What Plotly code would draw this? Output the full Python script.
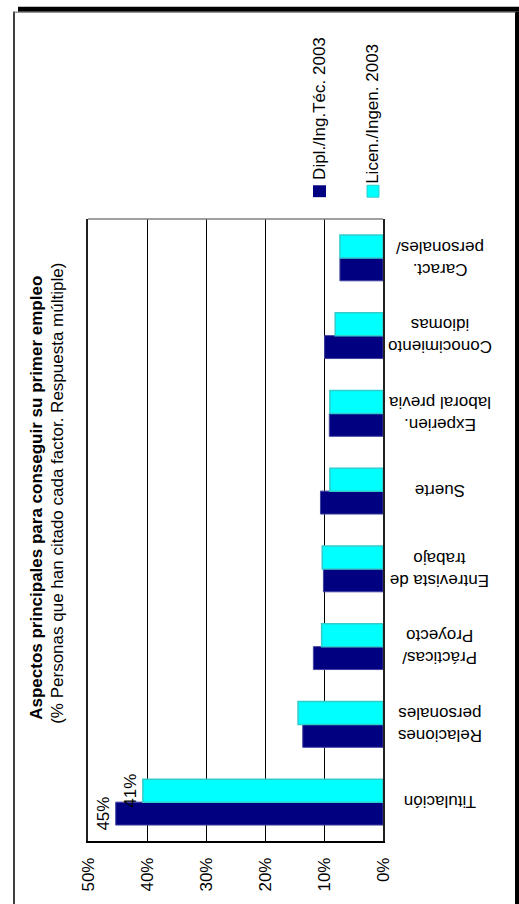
import plotly.graph_objects as go

categories = ["Titulación", "Relaciones<br>personales", "Prácticas/<br>Proyecto",
              "Entrevista de<br>trabajo", "Suerte", "Experien.<br>laboral previa",
              "Conocimiento<br>idiomas", "Caract.<br>personales/"]
dipl = [45.3, 13.6, 11.8, 10.1, 10.6, 9.1, 9.9, 7.3]
licen = [40.7, 14.4, 10.4, 10.3, 9.0, 9.0, 8.1, 7.3]
dipl_labels = ["45%", "", "", "", "", "", "", ""]
licen_labels = ["41%", "", "", "", "", "", "", ""]
series_names = ["Dipl./Ing.Téc. 2003", "Licen./Ingen. 2003"]
tick_vals = [0, 10, 20, 30, 40, 50]
tick_text = ["0%", "10%", "20%", "30%", "40%", "50%"]
title = "Aspectos principales para conseguir su primer empleo"
subtitle = "(% Personas que han citado cada factor. Respuesta múltiple)"

W, H = 519, 904
L, R, T, B = 88, 383, 219, 846
FONT = "Arial, Liberation Sans, sans-serif"
FS = 17


def px(x):
    return (x - L) / (R - L)


def py(y):
    return (B - y) / (B - T)


fig = go.Figure()
fig.add_trace(go.Bar(
    y=categories, x=dipl, orientation="h", name=series_names[0],
    marker=dict(color="#000080", line=dict(color="#4040a0", width=1)),
    text=dipl_labels, textposition="outside", textangle=-90,
    constraintext="none", cliponaxis=False,
    textfont=dict(family=FONT, size=FS, color="#000"),
))
fig.add_trace(go.Bar(
    y=categories, x=licen, orientation="h", name=series_names[1],
    marker=dict(color="#00FFFF", line=dict(color="#33CCCC", width=1.5)),
    text=licen_labels, textposition="outside", textangle=-90,
    constraintext="none", cliponaxis=False,
    textfont=dict(family=FONT, size=FS, color="#000"),
))

shapes = []
# outer frame
shapes.append(dict(type="rect", xref="paper", yref="paper", x0=px(18), x1=px(519), y0=py(10), y1=py(5),
                   fillcolor="#000", line=dict(width=0), layer="above"))
shapes.append(dict(type="rect", xref="paper", yref="paper", x0=px(515), x1=px(519), y0=py(910), y1=py(10),
                   fillcolor="#000", line=dict(width=0), layer="above"))
shapes.append(dict(type="line", xref="paper", yref="paper", x0=px(14), x1=px(14), y0=py(910), y1=py(10),
                   line=dict(color="#404040", width=2)))
shapes.append(dict(type="line", xref="paper", yref="paper", x0=px(13), x1=px(516), y0=py(10.5), y1=py(10.5),
                   line=dict(color="#606060", width=1)))
# plot border top
shapes.append(dict(type="line", xref="paper", yref="paper", x0=0, x1=1, y0=1, y1=1,
                   line=dict(color="#808080", width=1.5)))
# legend keys
shapes.append(dict(type="rect", xref="paper", yref="paper", x0=px(313), x1=px(326), y0=py(197), y1=py(185),
                   fillcolor="#000080", line=dict(width=0)))
shapes.append(dict(type="rect", xref="paper", yref="paper", x0=px(367), x1=px(379), y0=py(197), y1=py(185),
                   fillcolor="#00FFFF", line=dict(color="#33CCCC", width=1)))

annotations = [
    dict(text="<b>" + title + "</b>", x=px(37), y=py(500), xref="paper", yref="paper",
         textangle=-90, showarrow=False, font=dict(family=FONT, size=FS, color="#000"),
         xanchor="center", yanchor="middle"),
    dict(text=subtitle, x=px(58), y=py(496), xref="paper", yref="paper",
         textangle=-90, showarrow=False, font=dict(family=FONT, size=FS, color="#000"),
         xanchor="center", yanchor="middle"),
    dict(text=series_names[0], x=px(320), y=py(108), xref="paper", yref="paper",
         textangle=-90, showarrow=False, font=dict(family=FONT, size=FS, color="#000"),
         xanchor="center", yanchor="middle"),
    dict(text=series_names[1], x=px(373), y=py(113), xref="paper", yref="paper",
         textangle=-90, showarrow=False, font=dict(family=FONT, size=FS, color="#000"),
         xanchor="center", yanchor="middle"),
]
# category labels (upside-down, centred to the right of the plot)
for cat in categories:
    annotations.append(dict(text=cat, x=px(440), y=cat, xref="paper", yref="y",
                            textangle=180, showarrow=False, align="center",
                            font=dict(family=FONT, size=FS, color="#000"),
                            xanchor="center", yanchor="middle"))

fig.update_layout(
    width=W, height=H,
    margin=dict(l=L, r=W - R, t=T, b=H - B, pad=0),
    paper_bgcolor="#fff", plot_bgcolor="#fff",
    barmode="group", bargap=0.41, bargroupgap=0,
    showlegend=False, hovermode=False,
    font=dict(family=FONT, size=FS, color="#000"),
    shapes=shapes, annotations=annotations,
    xaxis=dict(range=[50, 0], tickvals=tick_vals, ticktext=tick_text, tickangle=-90,
               showgrid=True, gridcolor="#000", gridwidth=1, zeroline=False,
               showline=True, linecolor="#000", linewidth=1.5, ticks="",
               ticklabelstandoff=8,
               tickfont=dict(family=FONT, size=FS, color="#000")),
    yaxis=dict(side="right", showticklabels=False, showgrid=False, zeroline=False,
               showline=True, linecolor="#202020", linewidth=1.5, mirror=True, ticks=""),
)

fig.write_html("out.html", config={"displayModeBar": False},
               post_script="document.body.style.margin='0';document.body.style.overflow='hidden';")
